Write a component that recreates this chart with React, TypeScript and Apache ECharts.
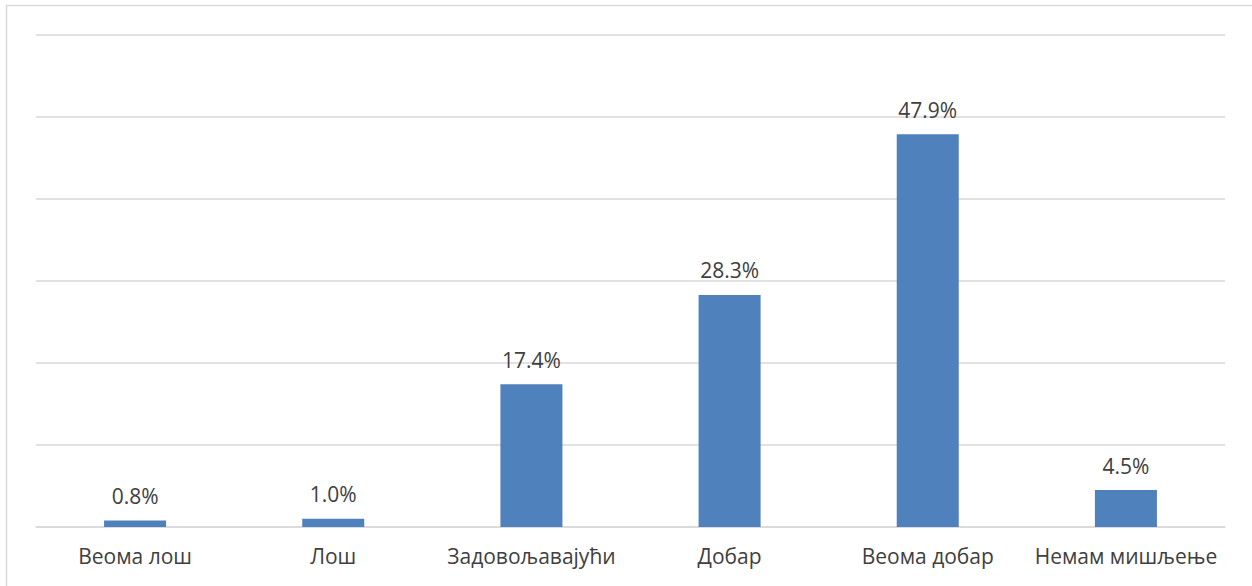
import React, { useEffect, useRef } from "react";
import * as echarts from "echarts";

const categories = ["Веома лош", "Лош", "Задовољавајући", "Добар", "Веома добар", "Немам мишљење"];
const values = [0.8, 1.0, 17.4, 28.3, 47.9, 4.5];

export default function App() {
  const ref = useRef<HTMLDivElement>(null);
  useEffect(() => {
    if (!ref.current) return;
    const chart = echarts.init(ref.current, null, { renderer: "svg" });
    chart.setOption({
      animation: false,
      backgroundColor: "#ffffff",
      textStyle: { fontFamily: "Open Sans" },
      graphic: [
        {
          type: "rect",
          shape: { x: 6.5, y: 5.5, width: 1300, height: 700 },
          style: { fill: "none", stroke: "#d9d9d9", lineWidth: 1.5 },
          silent: true,
        },
      ],
      grid: { left: 36, right: 27, top: 35, bottom: 59 },
      xAxis: {
        type: "category",
        data: categories,
        axisLine: { show: true, lineStyle: { color: "#d9d9d9", width: 1.5 } },
        axisTick: { show: false },
        axisLabel: {
          interval: 0,
          hideOverlap: false,
          color: "#404040",
          fontSize: 21,
          margin: 18,
          fontFamily: "Open Sans",
        },
      },
      yAxis: {
        type: "value",
        min: 0,
        max: 60,
        interval: 10,
        axisLabel: { show: false },
        axisLine: { show: false },
        axisTick: { show: false },
        splitLine: { lineStyle: { color: "#d9d9d9", width: 1.5 } },
      },
      series: [
        {
          type: "bar",
          data: values,
          barWidth: "31.3%",
          itemStyle: { color: "#4f81bd" },
          label: {
            show: true,
            position: "top",
            distance: 14,
            color: "#404040",
            fontSize: 21,
            fontFamily: "Open Sans",
            formatter: (p: any) => Number(p.value).toFixed(1) + "%",
          },
        },
      ],
    });
    return () => chart.dispose();
  }, []);
  return (
    <div
      ref={ref}
      style={{ position: "fixed", left: 0, top: 0, width: 1252, height: 586 }}
    />
  );
}
